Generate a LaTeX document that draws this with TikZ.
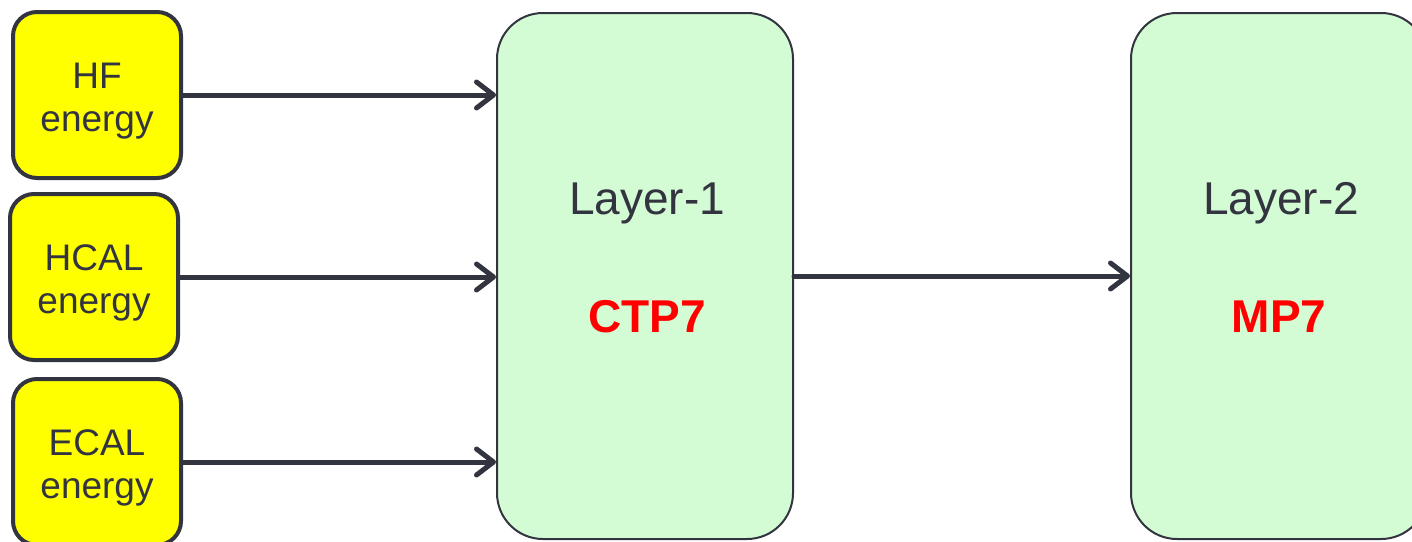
\documentclass[tikz,border=0pt]{standalone}
\usepackage{fontspec}
\setmainfont{Liberation Sans}
\usetikzlibrary{arrows.meta}
\definecolor{ink}{RGB}{50,52,64}
\definecolor{srcfill}{RGB}{255,255,0}
\definecolor{layerfill}{RGB}{212,252,212}
\definecolor{fwred}{RGB}{255,0,0}
% strut that lowers a two-line label a little inside its box
\newcommand{\toppad}{\rule{0pt}{37pt}}
\tikzset{
  source/.style={draw=ink, line width=4pt, fill=srcfill, rounded corners=24pt,
    minimum width=168pt, minimum height=166pt, inner sep=0pt, align=center,
    text=ink, font=\fontsize{37}{43}\selectfont},
  layer/.style={draw=ink, line width=2pt, fill=layerfill, rounded corners=46pt,
    minimum width=296pt, minimum height=526pt, inner sep=0pt},
  layername/.style={text=ink, font=\fontsize{46}{54}\selectfont, inner sep=0pt},
  board/.style={text=fwred, font=\fontsize{46}{54}\selectfont\bfseries, inner sep=0pt},
  feed/.style={draw=ink, line width=5pt, line cap=round,
    -{Straight Barb[length=17pt, width=26pt, line cap=round, line join=round]}}
}
\begin{document}
\begin{tikzpicture}[x=1pt, y=-1pt]
  \useasboundingbox (0,0) rectangle (1412,541);
  \begin{scope}
    \clip (0,0) rectangle (1412,541);
    % input sources
    \node[source] (hf)   at (97,95)   {\toppad HF\\energy};
    \node[source] (hcal) at (94,277)  {\toppad HCAL\\energy};
    \node[source] (ecal) at (97,462)  {\toppad ECAL\\energy};
    % trigger layers
    \node[layer] (l1) at (645,276) {};
    \node[layer] (l2) at (1279,276) {};
    \node[layername] (l1name) at (647,203) {Layer-1};
    \node[board]     (l1brd)  at (647,317) {CTP7};
    \node[layername] (l2name) at (1281,203) {Layer-2};
    \node[board]     (l2brd)  at (1279,317) {MP7};
    % data flow
    \draw[feed] (hf.east)   -- (l1.west |- hf.east);
    \draw[feed] (hcal.east) -- (l1.west |- hcal.east);
    \draw[feed] (ecal.east) -- (l1.west |- ecal.east);
    \draw[feed] (l1.east)   -- (l2.west);
  \end{scope}
\end{tikzpicture}
\end{document}
